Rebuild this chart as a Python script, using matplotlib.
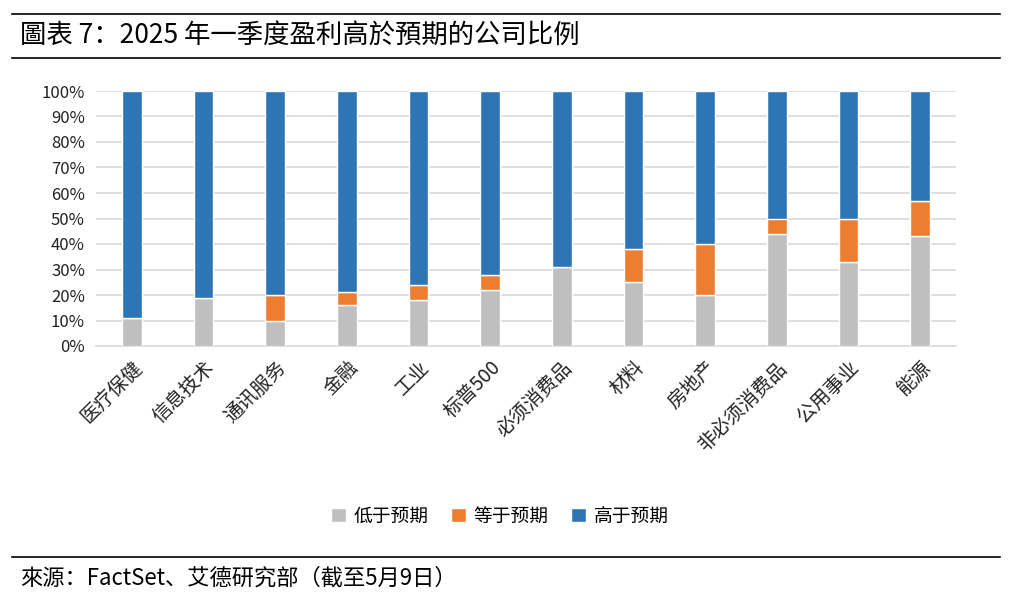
import matplotlib
matplotlib.use("Agg")
import matplotlib.pyplot as plt
import numpy as np
from matplotlib.ticker import FuncFormatter, MultipleLocator

plt.rcParams['font.family'] = ['Noto Sans CJK SC', 'DejaVu Sans']

categories = ["医疗保健", "信息技术", "通讯服务", "金融", "工业", "标普500",
              "必须消费品", "材料", "房地产", "非必须消费品", "公用事业", "能源"]
below = [11, 19, 10, 16, 18, 22, 31, 25, 20, 44, 33, 43]
equal = [0, 0, 10, 5, 6, 6, 0, 13, 20, 6, 17, 14]
above = [100 - b - e for b, e in zip(below, equal)]
series_names = ["低于预期", "等于预期", "高于预期"]
colors = ["#BFBFBF", "#ED7D31", "#2E75B6"]

title = "圖表 7：2025 年一季度盈利高於預期的公司比例"
source = "來源：FactSet、艾德研究部（截至5月9日）"

fig = plt.figure(figsize=(10.2, 6.02), dpi=100)
ax = fig.add_axes([96/1020, 1 - 346/602, 860/1020, 255/602])

x = np.arange(len(categories))
w = 0.27
bottom = np.zeros(len(categories))
for vals, name, c in zip([below, equal, above], series_names, colors):
    ax.bar(x, vals, w, bottom=bottom, color=c, edgecolor="white", linewidth=1.0,
           label=name, zorder=3)
    bottom += np.array(vals)

ax.set_xlim(-0.5, len(categories) - 0.5)
ax.set_ylim(0, 100)
ax.yaxis.set_major_locator(MultipleLocator(10))
ax.yaxis.set_major_formatter(FuncFormatter(lambda v, p: f"{int(v)}%"))
ax.grid(axis="y", color="#D9D9D9", linewidth=1.2, zorder=0)
for s in ["top", "right", "left"]:
    ax.spines[s].set_visible(False)
ax.spines["bottom"].set_color("#D9D9D9")
ax.spines["bottom"].set_linewidth(1.2)
ax.tick_params(axis="both", length=0, labelsize=12, colors="#222222")
ax.tick_params(axis="y", pad=8)
ax.set_xticks(x)
ax.set_xticklabels(categories, rotation=45, ha="right", rotation_mode="anchor",
                   fontsize=14)
ax.tick_params(axis="x", pad=8)

leg = fig.legend(loc="center", bbox_to_anchor=(500/1020, 1 - 516/602), ncol=3,
                 frameon=False, fontsize=13.5, handlelength=0.8, handleheight=0.8,
                 columnspacing=1.2, handletextpad=0.4)

# header / footer lines
fig.add_artist(plt.Line2D([12/1020, 1000/1020], [1 - 14/602, 1 - 14/602], color="black", linewidth=1.2))
fig.add_artist(plt.Line2D([12/1020, 1000/1020], [1 - 58/602, 1 - 58/602], color="black", linewidth=1.2))
fig.add_artist(plt.Line2D([12/1020, 1000/1020], [1 - 557/602, 1 - 557/602], color="black", linewidth=1.2))
fig.text(20/1020, 1 - 36/602, title, fontsize=19, va="center", ha="left", color="black")
fig.text(20/1020, 1 - 578/602, source, fontsize=16, va="center", ha="left", color="black")

fig.savefig("out.png", dpi=100)
